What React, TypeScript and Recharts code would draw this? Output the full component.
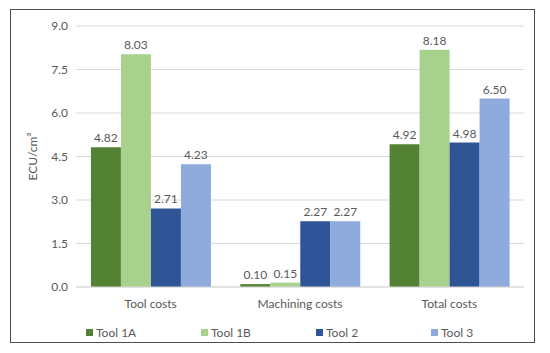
import { BarChart, Bar, XAxis, YAxis, CartesianGrid, LabelList } from "recharts";

const categories = ["Tool costs", "Machining costs", "Total costs"];
const tool1A = [4.82, 0.1, 4.92];
const tool1B = [8.03, 0.15, 8.18];
const tool2 = [2.71, 2.27, 4.98];
const tool3 = [4.23, 2.27, 6.5];
const yTicks = [0, 1.5, 3, 4.5, 6, 7.5, 9];

const SERIES = [
  { key: "Tool 1A", values: tool1A, color: "#548235" },
  { key: "Tool 1B", values: tool1B, color: "#A9D18E" },
  { key: "Tool 2", values: tool2, color: "#2F5597" },
  { key: "Tool 3", values: tool3, color: "#8FAADC" },
];

const data = categories.map((name, i) => {
  const row: Record<string, string | number> = { name };
  SERIES.forEach((s) => { row[s.key] = s.values[i]; });
  return row;
});

const FONT = "Lato, 'Open Sans', sans-serif";
const TEXT = "#595959";

export default function App() {
  return (
    <div style={{ position: "relative", width: 550, height: 353, margin: -8, fontFamily: FONT, background: "#fff" }}>
      <div style={{ position: "absolute", left: 10, top: 9, width: 523, height: 332, border: "1.5px solid #4d4d4d" }} />
      <div style={{ position: "absolute", left: 0, top: 0 }}>
        <BarChart width={550} height={353} data={data} margin={{ top: 26, right: 26, bottom: 36, left: 16 }} barCategoryGap="10%" barGap={0}>
          <CartesianGrid vertical={false} stroke="#d9d9d9" />
          <XAxis dataKey="name" height={30} tickLine={false} tickMargin={6} axisLine={{ stroke: "#d9d9d9" }} tick={{ fill: TEXT, fontSize: 12, fontFamily: FONT }} />
          <YAxis width={60} domain={[0, 9]} ticks={yTicks} interval={0} tickLine={false} axisLine={false}
            tickFormatter={(v: number) => v.toFixed(1)} tick={{ fill: TEXT, fontSize: 12, fontFamily: FONT }}
            label={{ value: "ECU/cm³", angle: -90, position: "insideLeft", offset: 17, fill: TEXT, fontSize: 12, fontFamily: FONT, style: { textAnchor: "middle" } }} />
          {SERIES.map((s) => (
            <Bar key={s.key} dataKey={s.key} fill={s.color} isAnimationActive={false}>
              <LabelList dataKey={s.key} position="top" fill={TEXT} fontSize={12} fontFamily={FONT}
                formatter={(v: number) => v.toFixed(2)} />
            </Bar>
          ))}
        </BarChart>
      </div>
      <div style={{ position: "absolute", left: 86, top: 325, display: "flex", fontSize: 12, color: TEXT }}>
        {SERIES.map((s) => (
          <div key={s.key} style={{ width: 115, display: "flex", alignItems: "center", gap: 3 }}>
            <div style={{ width: 7, height: 7, background: s.color }} />
            <span>{s.key}</span>
          </div>
        ))}
      </div>
    </div>
  );
}
